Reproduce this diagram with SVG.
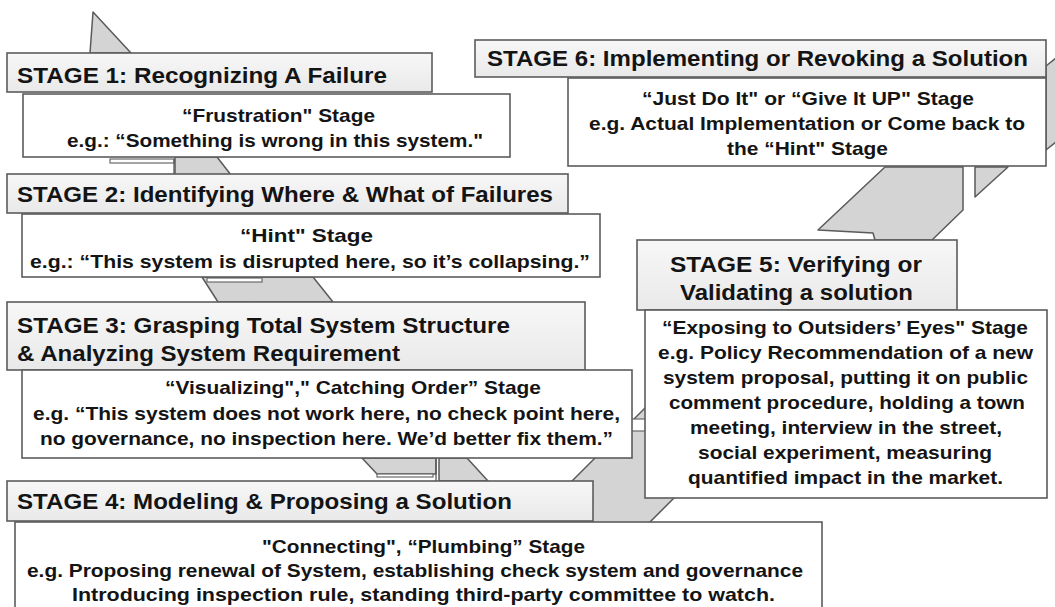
<svg xmlns="http://www.w3.org/2000/svg" width="1055" height="607" viewBox="0 0 1055 607">
<defs>
<linearGradient id="hg" x1="0" y1="0" x2="0" y2="1">
<stop offset="0" stop-color="#f7f7f7"/>
<stop offset="1" stop-color="#e9e9e9"/>
</linearGradient>
</defs>
<style>
.band{fill:#d4d4d4;stroke:#5a5a5a;stroke-width:1.5;stroke-linejoin:round}
.wb{fill:#ffffff;stroke:#6a6a6a;stroke-width:1.2}
.ln{stroke:#5a5a5a;stroke-width:1.3;fill:none}
.hdr{fill:url(#hg);stroke:#5c5c5c;stroke-width:1.6}
.box{fill:#ffffff;stroke:#5c5c5c;stroke-width:1.6}
text{font-family:"Liberation Sans",Arial,sans-serif;font-weight:bold;fill:#141414}
.h{font-size:22.5px}
.c{font-size:19px}
</style>
<rect width="1055" height="607" fill="#ffffff"/>
<g id="connectors">
<polygon class="band" points="93,12 90,53 131,53"/>
<polygon class="band" points="175,157 217,157 231,175 175,175"/>
<rect class="wb" x="110" y="159" width="64" height="4"/>
<line class="ln" x1="174" y1="159" x2="174" y2="175"/>
<polygon class="band" points="202,277 313,277 333,302 218,302"/>
<rect class="wb" x="207" y="278" width="55" height="4"/>
<polygon class="band" points="362,458 436,458 436,474 377,474"/>
<rect class="wb" x="377" y="474" width="56" height="3"/>
<polygon class="band" points="439,458 467,458 488,481 439,481"/>
<line class="ln" x1="436" y1="458" x2="436" y2="481"/>
<polygon class="band" points="560,493 740,313 859,313 640,532 560,532"/>
<rect class="wb" x="630" y="419" width="17" height="12"/>
<polygon class="band" points="885,167 963,167 963,210 932,240 875,240 873,233 818,230"/>
<polygon class="band" points="975,167 975,197 1008,167"/>
<polygon class="band" points="1046,66 1056,58 1056,142 1046,150"/>
</g>
<g id="stage1">
<rect class="hdr" x="7" y="53" width="425" height="39"/>
<text class="h" x="17" y="83" textLength="370" lengthAdjust="spacingAndGlyphs">STAGE 1: Recognizing A Failure</text>
<rect class="box" x="23" y="94" width="487" height="63"/>
<text class="c" x="182" y="122" textLength="193" lengthAdjust="spacingAndGlyphs">“Frustration" Stage</text>
<text class="c" x="67" y="147" textLength="416" lengthAdjust="spacingAndGlyphs">e.g.: “Something is wrong in this system."</text>
</g>
<g id="stage2">
<rect class="hdr" x="7" y="174" width="561" height="39"/>
<text class="h" x="17" y="202" textLength="536" lengthAdjust="spacingAndGlyphs">STAGE 2: Identifying Where &amp; What of Failures</text>
<rect class="box" x="22" y="214" width="578" height="63"/>
<text class="c" x="240" y="242" textLength="133" lengthAdjust="spacingAndGlyphs">“Hint" Stage</text>
<text class="c" x="30" y="268" textLength="560" lengthAdjust="spacingAndGlyphs">e.g.: “This system is disrupted here, so it’s collapsing.”</text>
</g>
<g id="stage3">
<rect class="hdr" x="7" y="302" width="578" height="68"/>
<text class="h" x="17" y="333" textLength="493" lengthAdjust="spacingAndGlyphs">STAGE 3: Grasping Total System Structure</text>
<text class="h" x="17" y="361" textLength="383" lengthAdjust="spacingAndGlyphs">&amp; Analyzing System Requirement</text>
<rect class="box" x="22" y="370" width="610" height="88"/>
<text class="c" x="165" y="394" textLength="376" lengthAdjust="spacingAndGlyphs">“Visualizing"," Catching Order” Stage</text>
<text class="c" x="33" y="420" textLength="587" lengthAdjust="spacingAndGlyphs">e.g. “This system does not work here, no check point here,</text>
<text class="c" x="40" y="445" textLength="573" lengthAdjust="spacingAndGlyphs">no governance, no inspection here. We’d better fix them.”</text>
</g>
<g id="stage4">
<rect class="hdr" x="7" y="481" width="586" height="40"/>
<text class="h" x="17" y="509" textLength="495" lengthAdjust="spacingAndGlyphs">STAGE 4: Modeling &amp; Proposing a Solution</text>
<rect class="box" x="15" y="522" width="807" height="95"/>
<text class="c" x="262" y="553" textLength="323" lengthAdjust="spacingAndGlyphs">"Connecting", “Plumbing” Stage</text>
<text class="c" x="27" y="577" textLength="776" lengthAdjust="spacingAndGlyphs">e.g. Proposing renewal of System, establishing check system and governance</text>
<text class="c" x="72" y="601" textLength="703" lengthAdjust="spacingAndGlyphs">Introducing inspection rule, standing third-party committee to watch.</text>
</g>
<g id="stage5">
<rect class="hdr" x="637" y="240" width="320" height="70"/>
<text class="h" x="670" y="272" textLength="252" lengthAdjust="spacingAndGlyphs">STAGE 5: Verifying or</text>
<text class="h" x="680" y="300" textLength="233" lengthAdjust="spacingAndGlyphs">Validating a solution</text>
<rect class="box" x="645" y="310" width="402" height="188"/>
<text class="c" x="662" y="334" textLength="366" lengthAdjust="spacingAndGlyphs">“Exposing to Outsiders’ Eyes" Stage</text>
<text class="c" x="658" y="359" textLength="375" lengthAdjust="spacingAndGlyphs">e.g. Policy Recommendation of a new</text>
<text class="c" x="663" y="384" textLength="365" lengthAdjust="spacingAndGlyphs">system proposal, putting it on public</text>
<text class="c" x="669" y="409" textLength="356" lengthAdjust="spacingAndGlyphs">comment procedure, holding a town</text>
<text class="c" x="690" y="434" textLength="312" lengthAdjust="spacingAndGlyphs">meeting, interview in the street,</text>
<text class="c" x="698" y="459" textLength="294" lengthAdjust="spacingAndGlyphs">social experiment, measuring</text>
<text class="c" x="688" y="484" textLength="315" lengthAdjust="spacingAndGlyphs">quantified impact in the market.</text>
</g>
<g id="stage6">
<rect class="hdr" x="475" y="40" width="571" height="37"/>
<text class="h" x="487" y="66" textLength="541" lengthAdjust="spacingAndGlyphs">STAGE 6: Implementing or Revoking a Solution</text>
<rect class="box" x="568" y="78" width="478" height="88"/>
<text class="c" x="642" y="105" textLength="332" lengthAdjust="spacingAndGlyphs">“Just Do It" or “Give It UP" Stage</text>
<text class="c" x="589" y="130" textLength="436" lengthAdjust="spacingAndGlyphs">e.g. Actual Implementation or Come back to</text>
<text class="c" x="727" y="155" textLength="161" lengthAdjust="spacingAndGlyphs">the “Hint" Stage</text>
</g>
</svg>
